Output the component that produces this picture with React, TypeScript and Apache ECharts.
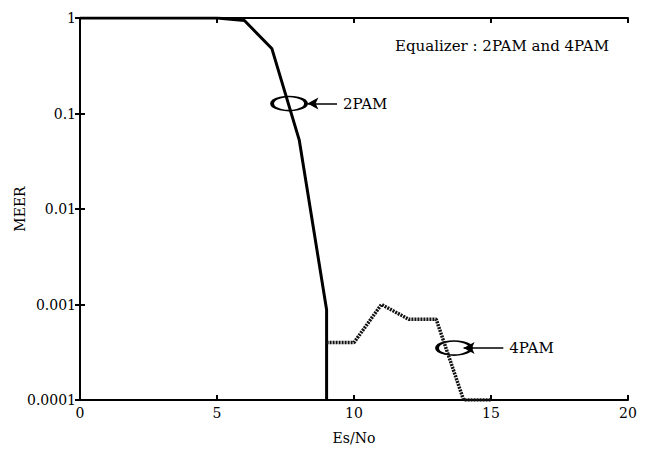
import React, { useEffect, useRef } from "react";
import * as echarts from "echarts";

const FONT = "DejaVu Serif";

const x2PAM = [0, 5, 6, 7, 8, 9, 9];
const y2PAM = [1, 1, 0.94, 0.48, 0.053, 0.00088, 0.0001];

const x4PAM = [9, 10, 11, 12, 13, 14, 15];
const y4PAM = [0.0004, 0.0004, 0.001, 0.0007, 0.0007, 0.0001, 0.0001];

const yTickLabels = ["0.0001", "0.001", "0.01", "0.1", "1"];
const xTicks = [0, 5, 10, 15, 20];

const titleText = "Equalizer : 2PAM and 4PAM";

// annotations: ellipse centres and arrows (data units)
const ellipse2PAM = [7.63, 0.127];
const ellipse4PAM = [13.65, 0.00035];
const arrow2PAM = [[9.38, 0.127], [8.3, 0.127]];
const arrow4PAM = [[15.45, 0.00035], [14.0, 0.00035]];

export default function App() {
  const ref = useRef<HTMLDivElement>(null);
  useEffect(() => {
    const chart = echarts.init(ref.current!, null, { renderer: "svg" });
    const axisLine = { show: true, lineStyle: { color: "#000", width: 2 } };
    const axisTick = { show: true, inside: true, length: 5, lineStyle: { color: "#000", width: 2 } };
    const arrowLine = (pts: number[][], label: string) => ({
      silent: true,
      symbol: ["none", "arrow"],
      symbolSize: [9, 11],
      lineStyle: { color: "#000", width: 1.5, type: "solid" },
      label: {
        show: true,
        position: "start",
        formatter: label,
        color: "#000",
        fontFamily: FONT,
        fontSize: 15,
        distance: 6,
      },
      data: [[{ coord: pts[0] }, { coord: pts[1] }]],
    });
    chart.setOption({
      animation: false,
      backgroundColor: "#fff",
      textStyle: { fontFamily: FONT },
      title: {
        text: titleText,
        right: 33,
        top: 33,
        textStyle: { fontFamily: FONT, fontSize: 15, fontWeight: "normal", color: "#000" },
      },
      grid: { left: 80, right: 19, top: 18, bottom: 50, outerBoundsMode: "none", containLabel: false },
      xAxis: [
        {
          type: "value",
          min: xTicks[0],
          max: xTicks[xTicks.length - 1],
          interval: 5,
          position: "bottom",
          axisLine,
          axisTick,
          splitLine: { show: false },
          axisLabel: { color: "#000", fontFamily: FONT, fontSize: 14, margin: 6 },
          name: "Es/No",
          nameLocation: "middle",
          nameGap: 31,
          nameMoveOverlap: false,
          nameTextStyle: { color: "#000", fontFamily: FONT, fontSize: 14 },
        },
        {
          type: "value",
          min: xTicks[0],
          max: xTicks[xTicks.length - 1],
          interval: 5,
          position: "top",
          axisLine,
          axisTick,
          splitLine: { show: false },
          axisLabel: { show: false },
        },
      ],
      yAxis: [
        {
          type: "log",
          logBase: 10,
          min: 0.0001,
          max: 1,
          position: "left",
          axisLine,
          axisTick,
          minorTick: { show: false },
          splitLine: { show: false },
          axisLabel: {
            color: "#000",
            fontFamily: FONT,
            fontSize: 14,
            margin: 4,
            formatter: (v: number) => yTickLabels[Math.round(Math.log10(v)) + 4],
          },
          name: "MEER",
          nameLocation: "middle",
          nameGap: 53,
          nameMoveOverlap: false,
          nameRotate: 90,
          nameTextStyle: { color: "#000", fontFamily: FONT, fontSize: 14 },
        },
        {
          type: "log",
          logBase: 10,
          min: 0.0001,
          max: 1,
          position: "right",
          axisLine,
          axisTick,
          splitLine: { show: false },
          axisLabel: { show: false },
        },
      ],
      series: [
        {
          name: "2PAM",
          type: "line",
          xAxisIndex: 0,
          yAxisIndex: 0,
          data: x2PAM.map((x, i) => [x, y2PAM[i]]),
          showSymbol: false,
          symbol: "none",
          lineStyle: { color: "#000", width: 3, type: "solid" },
          markLine: arrowLine(arrow2PAM, "2PAM"),
        },
        {
          name: "4PAM",
          type: "line",
          xAxisIndex: 0,
          yAxisIndex: 0,
          data: x4PAM.map((x, i) => [x, y4PAM[i]]),
          showSymbol: false,
          symbol: "none",
          lineStyle: { color: "#111", width: 3.5, type: [2, 1] },
          markLine: arrowLine(arrow4PAM, "4PAM"),
        },
        {
          name: "ellipses",
          type: "scatter",
          xAxisIndex: 0,
          yAxisIndex: 0,
          data: [ellipse2PAM, ellipse4PAM],
          symbol: "circle",
          symbolSize: [34, 14],
          silent: true,
          itemStyle: { color: "rgba(0,0,0,0)", borderColor: "#000", borderWidth: 2.5, opacity: 1 },
        },
      ],
    });
    return () => chart.dispose();
  }, []);
  return (
    <div
      ref={ref}
      style={{ position: "absolute", left: 0, top: 0, width: 647, height: 450, background: "#fff" }}
    />
  );
}
